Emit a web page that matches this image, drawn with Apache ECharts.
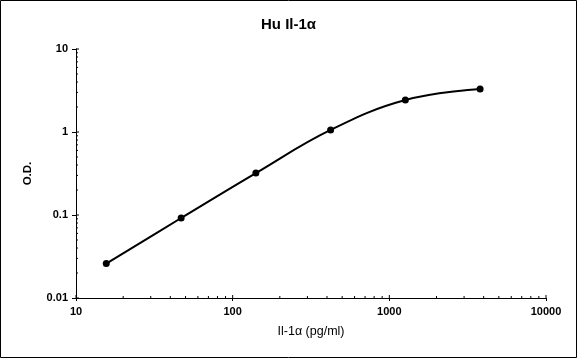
<!DOCTYPE html>
<html>
<head>
<meta charset="utf-8">
<script src="https://cdn.jsdelivr.net/npm/echarts@6/dist/echarts.min.js"></script>
<style>
html,body{margin:0;padding:0;background:#fff;}
#chart{width:577px;height:358px;}
</style>
</head>
<body>
<div id="chart"></div>
<script>
const concentrations = [15.6, 46.9, 140.6, 421.9, 1265.6, 3796.9];
const odValues = [0.026, 0.092, 0.32, 1.06, 2.43, 3.30];
const xTickLabels = ['10', '100', '1000', '10000'];
const yTickLabels = ['0.01', '0.1', '1', '10'];
const xMajorTicks = [10, 100, 1000, 10000];
const yMajorTicks = [0.01, 0.1, 1, 10];
const xMinorTicks = [20,30,40,50,60,70,80,90,200,300,400,500,600,700,800,900,2000,3000,4000,5000,6000,7000,8000,9000];
const yMinorTicks = [0.02,0.03,0.04,0.05,0.06,0.07,0.08,0.09,0.2,0.3,0.4,0.5,0.6,0.7,0.8,0.9,2,3,4,5,6,7,8,9];

const chart = echarts.init(document.getElementById('chart'));
const font = '"Liberation Sans", Arial, sans-serif';

function labelFor(list, majors, v) {
  for (let i = 0; i < majors.length; i++) {
    if (Math.abs(Math.log10(v) - Math.log10(majors[i])) < 1e-6) return list[i];
  }
  return '';
}

const xTickData = xMinorTicks.map(v => [v, 0.01, 2]).concat(xMajorTicks.map(v => [v, 0.01, 3]));
const yTickData = yMinorTicks.map(v => [10, v, 2]).concat(yMajorTicks.map(v => [10, v, 3]));

chart.setOption({
  animation: false,
  backgroundColor: '#fff',
  title: {
    text: 'Hu Il-1α',
    left: 'center',
    top: 12,
    textStyle: {fontFamily: font, fontSize: 15, fontWeight: 'bold', color: '#000'}
  },
  grid: {left: 76, right: 31, top: 49, bottom: 60},
  xAxis: {
    type: 'log',
    logBase: 10,
    min: 10,
    max: 10000,
    splitNumber: 3,
    name: 'Il-1α (pg/ml)',
    nameLocation: 'middle',
    nameGap: 27,
    nameTextStyle: {fontFamily: font, fontSize: 12.5, color: '#000'},
    axisLine: {lineStyle: {color: '#000', width: 1}},
    axisTick: {show: true, length: 3, lineStyle: {color: '#000'}},
    splitLine: {show: false},
    axisLabel: {
      fontFamily: font, fontSize: 11, fontWeight: 'bold', color: '#000', margin: 8,
      formatter: v => labelFor(xTickLabels, xMajorTicks, v)
    }
  },
  yAxis: {
    type: 'log',
    logBase: 10,
    min: 0.01,
    max: 10,
    splitNumber: 3,
    name: 'O.D.',
    nameLocation: 'middle',
    nameGap: 42,
    nameRotate: 90,
    nameTextStyle: {fontFamily: font, fontSize: 11.5, fontWeight: 'bold', color: '#000'},
    axisLine: {show: true, lineStyle: {color: '#000', width: 1}},
    axisTick: {show: true, length: 4, lineStyle: {color: '#000'}},
    splitLine: {show: false},
    axisLabel: {
      fontFamily: font, fontSize: 11, fontWeight: 'bold', color: '#000', margin: 8,
      formatter: v => labelFor(yTickLabels, yMajorTicks, v)
    }
  },
  graphic: [{
    type: 'rect',
    shape: {x: 0.5, y: 0.5, width: 576, height: 357},
    style: {fill: null, stroke: '#000', lineWidth: 1},
    silent: true
  }],
  series: [
    {
      type: 'custom',
      silent: true,
      clip: false,
      data: xTickData,
      renderItem: (params, api) => {
        const p = api.coord([api.value(0), api.value(1)]);
        const len = api.value(2);
        return {type: 'line', shape: {x1: p[0], y1: p[1], x2: p[0], y2: p[1] - len}, style: {stroke: '#000', lineWidth: 1}};
      },
      z: 1
    },
    {
      type: 'custom',
      silent: true,
      clip: false,
      data: yTickData,
      renderItem: (params, api) => {
        const p = api.coord([api.value(0), api.value(1)]);
        const len = api.value(2);
        return {type: 'line', shape: {x1: p[0], y1: p[1], x2: p[0] + len, y2: p[1]}, style: {stroke: '#000', lineWidth: 1}};
      },
      z: 1
    },
    {
      type: 'line',
      data: concentrations.map((c, i) => [c, odValues[i]]),
      smooth: 0.4,
      symbol: 'circle',
      symbolSize: 7,
      lineStyle: {color: '#000', width: 2},
      itemStyle: {color: '#000'},
      z: 3
    }
  ]
});
</script>
</body>
</html>
